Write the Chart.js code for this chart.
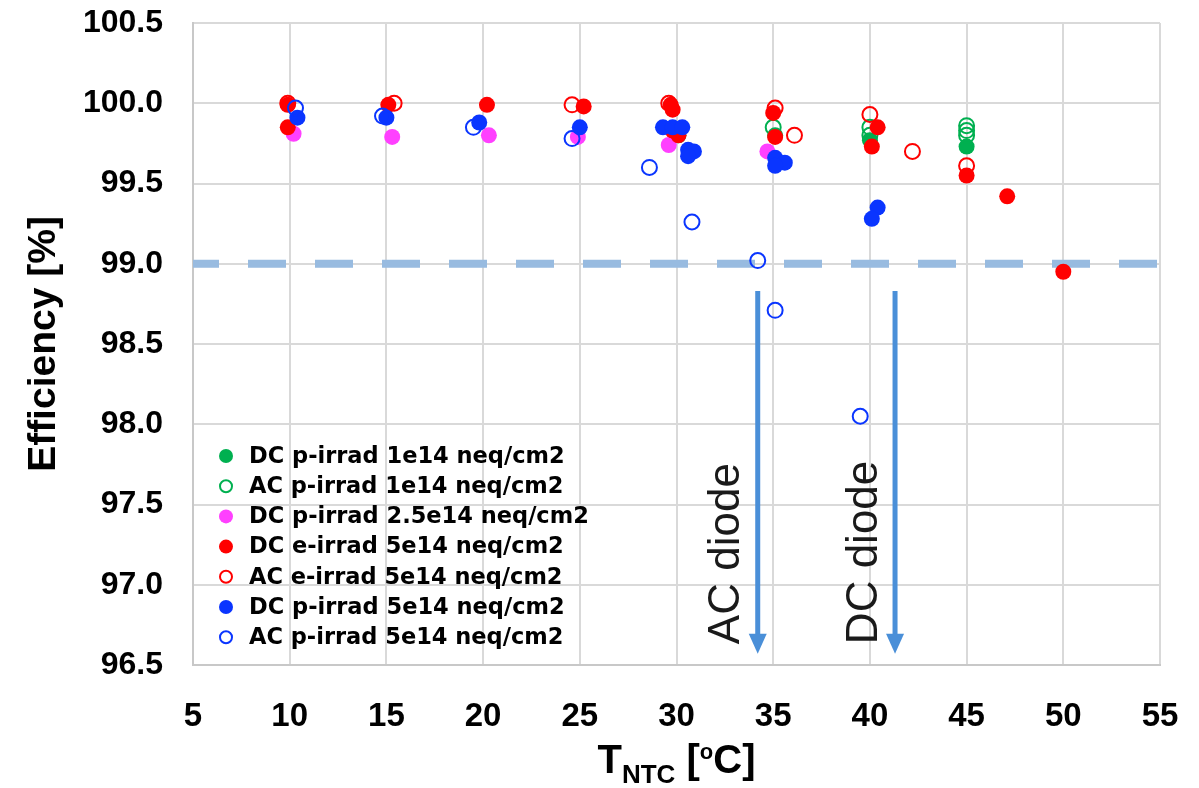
<!DOCTYPE html>
<html lang="en">
<head>
    <meta charset="UTF-8">
    <title>Efficiency vs T_NTC</title>
    <script src="https://cdn.jsdelivr.net/npm/chart.js"></script>
    <style>
        body { margin: 0; background: #fff; }
    </style>
</head>
<body>
    <canvas id="effChart" width="1199" height="788"></canvas>

    <script>
        // Series values (T_NTC in degC, efficiency in %)
        const dcP1eX = [30.1, 35.1, 40.0, 45.0];
        const dcP1eY = [99.80, 99.80, 99.77, 99.73];

        const acP1eX = [30.0, 35.0, 40.0, 40.0, 45.0, 45.0, 45.0];
        const acP1eY = [99.82, 99.85, 99.85, 99.80, 99.86, 99.83, 99.80];

        const dcP25eX = [10.2, 15.3, 20.3, 24.9, 29.6, 34.7];
        const dcP25eY = [99.81, 99.79, 99.80, 99.79, 99.74, 99.70];

        const dcE5eX = [9.9, 9.9, 15.1, 20.2, 25.2, 29.7, 29.8, 29.8, 30.1, 35.0, 35.1, 40.4, 40.1, 45.0, 47.1, 50.0];
        const dcE5eY = [99.99, 99.85, 99.99, 99.99, 99.98, 99.99, 99.96, 99.83, 99.80, 99.94, 99.79, 99.85, 99.73, 99.55, 99.42, 98.95];

        const acE5eX = [9.9, 15.4, 24.6, 29.6, 35.1, 36.1, 40.0, 42.2, 45.0];
        const acE5eY = [100.00, 100.00, 99.99, 100.00, 99.97, 99.80, 99.93, 99.70, 99.61];

        const dcP5eX = [10.4, 15.0, 19.8, 25.0, 29.3, 29.8, 30.3, 30.6, 30.9, 30.6, 35.1, 35.6, 35.1, 40.4, 40.1];
        const dcP5eY = [99.91, 99.91, 99.88, 99.85, 99.85, 99.85, 99.85, 99.71, 99.70, 99.67, 99.66, 99.63, 99.61, 99.35, 99.28];

        const acP5eX = [10.3, 14.8, 19.5, 24.6, 28.6, 30.8, 34.2, 35.1, 39.5];
        const acP5eY = [99.97, 99.92, 99.85, 99.78, 99.60, 99.26, 99.02, 98.71, 98.05];

        const seriesLabels = [
            'DC p-irrad 1e14 neq/cm2',
            'AC p-irrad 1e14 neq/cm2',
            'DC p-irrad 2.5e14 neq/cm2',
            'DC e-irrad 5e14 neq/cm2',
            'AC e-irrad 5e14 neq/cm2',
            'DC p-irrad 5e14 neq/cm2',
            'AC p-irrad 5e14 neq/cm2'
        ];

        // 99 % reference level and the two diode arrows (data units)
        const threshold = 99.0;
        const arrowX = [34.2, 41.3];
        const arrowTop = 98.83;
        const arrowBottom = 96.57;
        const arrowText = ['AC diode', 'DC diode'];
        const arrowTextX = [32.6, 39.75];
        const arrowTextBottom = 96.63;

        const xTicks = [5, 10, 15, 20, 25, 30, 35, 40, 45, 50, 55];
        const yTicks = [96.5, 97.0, 97.5, 98.0, 98.5, 99.0, 99.5, 100.0, 100.5];

        const GREEN = '#00b050';
        const MAGENTA = '#ff40ff';
        const RED = '#ff0000';
        const BLUE = '#0a35ff';

        function pts(xs, ys) {
            return xs.map((x, i) => ({ x: x, y: ys[i] }));
        }

        function series(label, xs, ys, color, filled, order) {
            return {
                label: label,
                data: pts(xs, ys),
                backgroundColor: filled ? color : 'rgba(0,0,0,0)',
                borderColor: color,
                borderWidth: filled ? 0 : 2,
                pointRadius: filled ? 8 : 7.5,
                pointHoverRadius: 8,
                showLine: false,
                order: order,
                filled: filled
            };
        }

        const pointSets = [
            series(seriesLabels[0], dcP1eX, dcP1eY, GREEN, true, 7),
            series(seriesLabels[1], acP1eX, acP1eY, GREEN, false, 6),
            series(seriesLabels[2], dcP25eX, dcP25eY, MAGENTA, true, 5),
            series(seriesLabels[3], dcE5eX, dcE5eY, RED, true, 4),
            series(seriesLabels[4], acE5eX, acE5eY, RED, false, 3),
            series(seriesLabels[5], dcP5eX, dcP5eY, BLUE, true, 2),
            series(seriesLabels[6], acP5eX, acP5eY, BLUE, false, 1)
        ];

        const thresholdLine = {
            type: 'line',
            label: '99%',
            data: [{ x: xTicks[0], y: threshold }, { x: xTicks[xTicks.length - 1], y: threshold }],
            borderColor: '#98bbe0',
            borderWidth: 8,
            borderDash: [38, 29],
            borderDashOffset: 12,
            pointRadius: 0,
            order: 20
        };

        // custom drawing: legend box, diode arrows, x-axis title with subscript
        const extras = {
            id: 'extras',
            afterDraw(chart) {
                const ctx = chart.ctx;
                const xs = chart.scales.x, ys = chart.scales.y;
                const area = chart.chartArea;

                // arrows
                ctx.save();
                ctx.strokeStyle = '#4a8fd8';
                ctx.fillStyle = '#4a8fd8';
                ctx.lineWidth = 5;
                arrowX.forEach(v => {
                    const px = xs.getPixelForValue(v);
                    const y0 = ys.getPixelForValue(arrowTop);
                    const y1 = ys.getPixelForValue(arrowBottom);
                    ctx.beginPath();
                    ctx.moveTo(px, y0);
                    ctx.lineTo(px, y1 - 16);
                    ctx.stroke();
                    ctx.beginPath();
                    ctx.moveTo(px - 9, y1 - 20);
                    ctx.lineTo(px + 9, y1 - 20);
                    ctx.lineTo(px, y1);
                    ctx.closePath();
                    ctx.fill();
                });

                // rotated arrow labels
                ctx.fillStyle = '#1a1a1a';
                ctx.font = '44px "Liberation Sans", Arial, sans-serif';
                ctx.textAlign = 'left';
                ctx.textBaseline = 'middle';
                arrowText.forEach((t, i) => {
                    ctx.save();
                    ctx.translate(xs.getPixelForValue(arrowTextX[i]), ys.getPixelForValue(arrowTextBottom));
                    ctx.rotate(-Math.PI / 2);
                    ctx.fillText(t, 0, 0);
                    ctx.restore();
                });
                ctx.restore();

                // legend
                ctx.save();
                const lx = area.left + 33, ly0 = area.top + 433, dy = 30.2;
                ctx.font = 'bold 22.5px "DejaVu Sans", sans-serif';
                ctx.textBaseline = 'middle';
                ctx.textAlign = 'left';
                pointSets.forEach((ds, i) => {
                    const y = ly0 + i * dy;
                    ctx.beginPath();
                    if (ds.filled) {
                        ctx.arc(lx, y, 7, 0, Math.PI * 2);
                        ctx.fillStyle = ds.borderColor;
                        ctx.fill();
                    } else {
                        ctx.arc(lx, y, 6, 0, Math.PI * 2);
                        ctx.lineWidth = 2;
                        ctx.strokeStyle = ds.borderColor;
                        ctx.stroke();
                    }
                    ctx.fillStyle = '#000';
                    ctx.fillText(ds.label, lx + 23, y + 1);
                });
                ctx.restore();

                // x-axis title  T_NTC [oC]
                ctx.save();
                ctx.fillStyle = '#000';
                ctx.textBaseline = 'alphabetic';
                ctx.textAlign = 'left';
                const parts = [
                    { t: 'T', f: 'bold 40px "Liberation Sans", Arial', dy: 0 },
                    { t: 'NTC', f: 'bold 26px "Liberation Sans", Arial', dy: 10 },
                    { t: ' [', f: 'bold 40px "Liberation Sans", Arial', dy: 0 },
                    { t: 'o', f: 'bold 22px "Liberation Sans", Arial', dy: -14 },
                    { t: 'C]', f: 'bold 40px "Liberation Sans", Arial', dy: 0 }
                ];
                let total = 0;
                parts.forEach(p => { ctx.font = p.f; p.w = ctx.measureText(p.t).width; total += p.w; });
                let tx = (area.left + area.right) / 2 - total / 2;
                const baseY = 773;
                parts.forEach(p => {
                    ctx.font = p.f;
                    ctx.fillText(p.t, tx, baseY + p.dy);
                    tx += p.w;
                });
                ctx.restore();
            }
        };

        const ctx = document.getElementById('effChart').getContext('2d');
        const effChart = new Chart(ctx, {
            type: 'scatter',
            data: {
                datasets: pointSets.concat([thresholdLine])
            },
            options: {
                responsive: false,
                animation: false,
                layout: { padding: { top: 23, right: 39, left: 0, bottom: 0 } },
                plugins: {
                    legend: { display: false },
                    tooltip: { enabled: false }
                },
                scales: {
                    x: {
                        type: 'linear',
                        min: xTicks[0],
                        max: xTicks[xTicks.length - 1],
                        afterBuildTicks: s => { s.ticks = xTicks.map(v => ({ value: v })); },
                        afterFit: s => { s.height = 123; s.paddingLeft = 0; s.paddingRight = 0; },
                        grid: { color: '#d9d9d9', lineWidth: 2, drawTicks: false },
                        border: { color: '#c8c8c8', width: 2 },
                        ticks: {
                            color: '#000',
                            padding: 32,
                            maxRotation: 0,
                            font: { family: '"Liberation Sans", Arial', size: 33, weight: 'bold' }
                        }
                    },
                    y: {
                        type: 'linear',
                        min: yTicks[0],
                        max: yTicks[yTicks.length - 1],
                        afterBuildTicks: s => { s.ticks = yTicks.map(v => ({ value: v })); },
                        afterFit: s => { s.width = 193; s.paddingTop = 0; s.paddingBottom = 0; },
                        grid: { color: '#d9d9d9', lineWidth: 2, drawTicks: false },
                        border: { color: '#c8c8c8', width: 2 },
                        ticks: {
                            color: '#000',
                            padding: 30,
                            callback: v => v.toFixed(1),
                            font: { family: '"Liberation Sans", Arial', size: 32, weight: 'bold' }
                        },
                        title: {
                            display: true,
                            text: 'Efficiency [%]',
                            color: '#000',
                            padding: { top: 21, bottom: 0 },
                            font: { family: '"Liberation Sans", Arial', size: 39, weight: 'bold' }
                        }
                    }
                }
            },
            plugins: [extras]
        });
    </script>
</body>
</html>
